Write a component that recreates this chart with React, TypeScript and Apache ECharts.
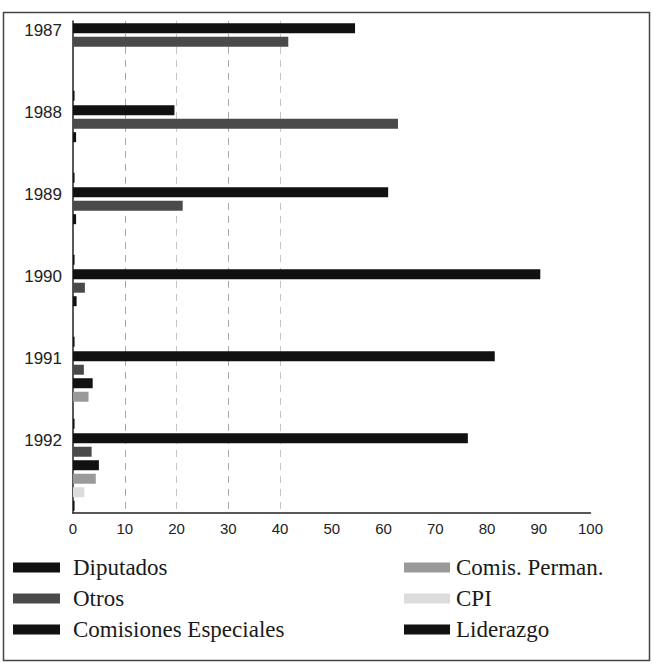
import React, { useEffect, useRef } from "react";
import * as echarts from "echarts";

const years = ["1987", "1988", "1989", "1990", "1991", "1992"];
const seriesNames = ["Diputados", "Otros", "Comisiones Especiales", "Comis. Perman.", "CPI", "Liderazgo"];
const diputados = [54.5, 19.6, 60.9, 90.3, 81.5, 76.3];
const otros = [41.6, 62.8, 21.2, 2.3, 2.1, 3.6];
const comisionesEspeciales = [0, 0.6, 0.6, 0.7, 3.8, 5.0];
const comisPerman = [0, 0, 0, 0, 3.0, 4.4];
const cpi = [0, 0, 0, 0, 0, 2.2];
const liderazgo = [0.3, 0.3, 0.3, 0.3, 0.3, 0.3];
const xTicks = { min: 0, max: 100, interval: 10 };

const colors = ["#111111", "#4a4a4a", "#111111", "#9a9a9a", "#dcdcdc", "#111111"];
const values = [diputados, otros, comisionesEspeciales, comisPerman, cpi, liderazgo];

export default function App() {
  const ref = useRef<HTMLDivElement>(null);
  useEffect(() => {
    if (!ref.current) return;
    const chart = echarts.init(ref.current, null, { renderer: "svg" });
    const legendText = {
      fontFamily: "'Liberation Serif', 'Times New Roman', serif",
      fontSize: 23,
      lineHeight: 22,
      color: "#1a1a1a",
    };
    chart.setOption({
      animation: false,
      backgroundColor: "#ffffff",
      grid: { left: 73, right: 61.5, top: 20, bottom: 152, containLabel: false },
      xAxis: {
        type: "value",
        min: xTicks.min,
        max: xTicks.max,
        interval: xTicks.interval,
        axisLine: { show: true, lineStyle: { color: "#222", width: 1.5 } },
        axisTick: { show: false },
        axisLabel: {
          margin: 8,
          fontFamily: "'Liberation Sans', Arial, sans-serif",
          fontSize: 15,
          color: "#222",
        },
        splitLine: {
          show: true,
          lineStyle: {
            type: [7, 6],
            width: 1,
            color: [
              "rgba(0,0,0,0)",
              "#a8a8a8",
              "#c4c4c4",
              "#a8a8a8",
              "#c4c4c4",
              "rgba(0,0,0,0)",
              "rgba(0,0,0,0)",
              "rgba(0,0,0,0)",
              "rgba(0,0,0,0)",
              "rgba(0,0,0,0)",
              "rgba(0,0,0,0)",
            ],
          },
        },
      },
      yAxis: {
        type: "category",
        data: years,
        inverse: true,
        axisLine: { show: true, lineStyle: { color: "#222", width: 1.5 } },
        axisTick: { show: false },
        axisLabel: {
          margin: 11,
          fontFamily: "'Liberation Sans', Arial, sans-serif",
          fontSize: 17,
          color: "#222",
          verticalAlign: "bottom",
          lineHeight: 62,
        },
        splitLine: { show: false },
      },
      legend: [
        {
          data: seriesNames.slice(0, 3),
          orient: "vertical",
          left: 13,
          top: 556,
          padding: 0,
          itemWidth: 47,
          itemHeight: 10,
          itemGap: 8,
          icon: "rect",
          selectedMode: false,
          textStyle: { ...legendText, padding: [0, 0, 0, 8] },
        },
        {
          data: seriesNames.slice(3),
          orient: "vertical",
          left: 404,
          top: 556,
          padding: 0,
          itemWidth: 46,
          itemHeight: 10,
          itemGap: 8,
          icon: "rect",
          selectedMode: false,
          textStyle: { ...legendText, padding: [0, 0, 0, 1] },
        },
      ],
      graphic: [
        {
          type: "rect",
          shape: { x: 3.5, y: 12.5, width: 646, height: 648 },
          style: { fill: "none", stroke: "#444", lineWidth: 1.5 },
          silent: true,
        },
      ],
      series: seriesNames.map((name, i) => ({
        name,
        type: "bar",
        data: values[i],
        barWidth: 10,
        barGap: "35%",
        barCategoryGap: "5.5%",
        itemStyle: { color: colors[i] },
      })),
    });
    return () => chart.dispose();
  }, []);
  return (
    <div
      ref={ref}
      style={{ position: "fixed", left: 0, top: 0, width: 652, height: 665 }}
    />
  );
}
